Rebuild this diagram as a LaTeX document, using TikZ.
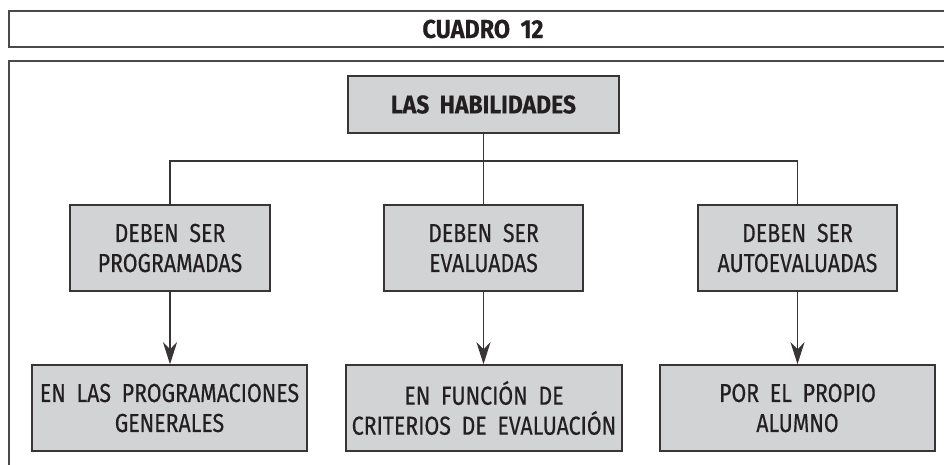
\documentclass[tikz,border=0pt]{standalone}
\usepackage{fontspec}
\setmainfont{Fira Sans}[FakeStretch=0.82, FakeBold=0.4, WordSpace=1.9, BoldFeatures={FakeStretch=0.9, FakeBold=0.3}]
\usetikzlibrary{arrows.meta}
\definecolor{boxfill}{HTML}{D1D3D4}
\definecolor{ink}{HTML}{231F20}
\definecolor{frame}{HTML}{4A4A4A}
\tikzset{
  graybox/.style={draw=ink!90, line width=1.5pt, fill=boxfill, text=ink,
    align=center, inner sep=0pt, font=\fontsize{26}{30}\selectfont},
  link/.style={draw=ink!90, line width=1.3pt},
  arrowlink/.style={link, -{Stealth[length=22pt,width=14pt,inset=7pt]}},
  framebox/.style={draw=frame, line width=2pt}
}
\begin{document}
\begin{tikzpicture}[x=1pt,y=-1pt]
\useasboundingbox (0,0) rectangle (944,464);
\clip (0,0) rectangle (944,464);
% frames
\draw[framebox] (9,11) rectangle (960,47);
\draw[framebox] (9,61) rectangle (960,490);
\node[text=ink, font=\bfseries\fontsize{26}{28}\selectfont] (title) at (483,29) {CUADRO 12};
% top
\node[graybox, minimum width=271pt, minimum height=57pt, font=\bfseries\fontsize{25.5}{30}\selectfont] (top) at (483.5,104.5) {LAS HABILIDADES};
% middle row
\node[graybox, minimum width=200pt, minimum height=86pt] (m1) at (170,248) {DEBEN SER\\PROGRAMADAS};
\node[graybox, minimum width=199pt, minimum height=86pt] (m2) at (483.5,248) {DEBEN SER\\EVALUADAS};
\node[graybox, minimum width=199pt, minimum height=86pt] (m3) at (797.5,248) {DEBEN SER\\AUTOEVALUADAS};
% bottom row
\node[graybox, minimum width=275pt, minimum height=86pt] (b1) at (169.5,408) {EN LAS PROGRAMACIONES\\GENERALES};
\node[graybox, minimum width=276pt, minimum height=86pt] (b2) at (484,408) {EN FUNCIÓN DE\\CRITERIOS DE EVALUACIÓN};
\node[graybox, minimum width=275pt, minimum height=86pt] (b3) at (797.5,408) {POR EL PROPIO\\ALUMNO};
% connectors
\coordinate (hub) at (483.5,161);
\draw[link] (top.south) -- (hub);
\draw[link] (m1.north) |- (hub) -| (m3.north);
\draw[link] (hub) -- (m2.north);
\draw[arrowlink] (m1.south) -- (b1.north -| m1.south);
\draw[arrowlink] (m2.south) -- (b2.north -| m2.south);
\draw[arrowlink] (m3.south) -- (b3.north -| m3.south);
\end{tikzpicture}
\end{document}
